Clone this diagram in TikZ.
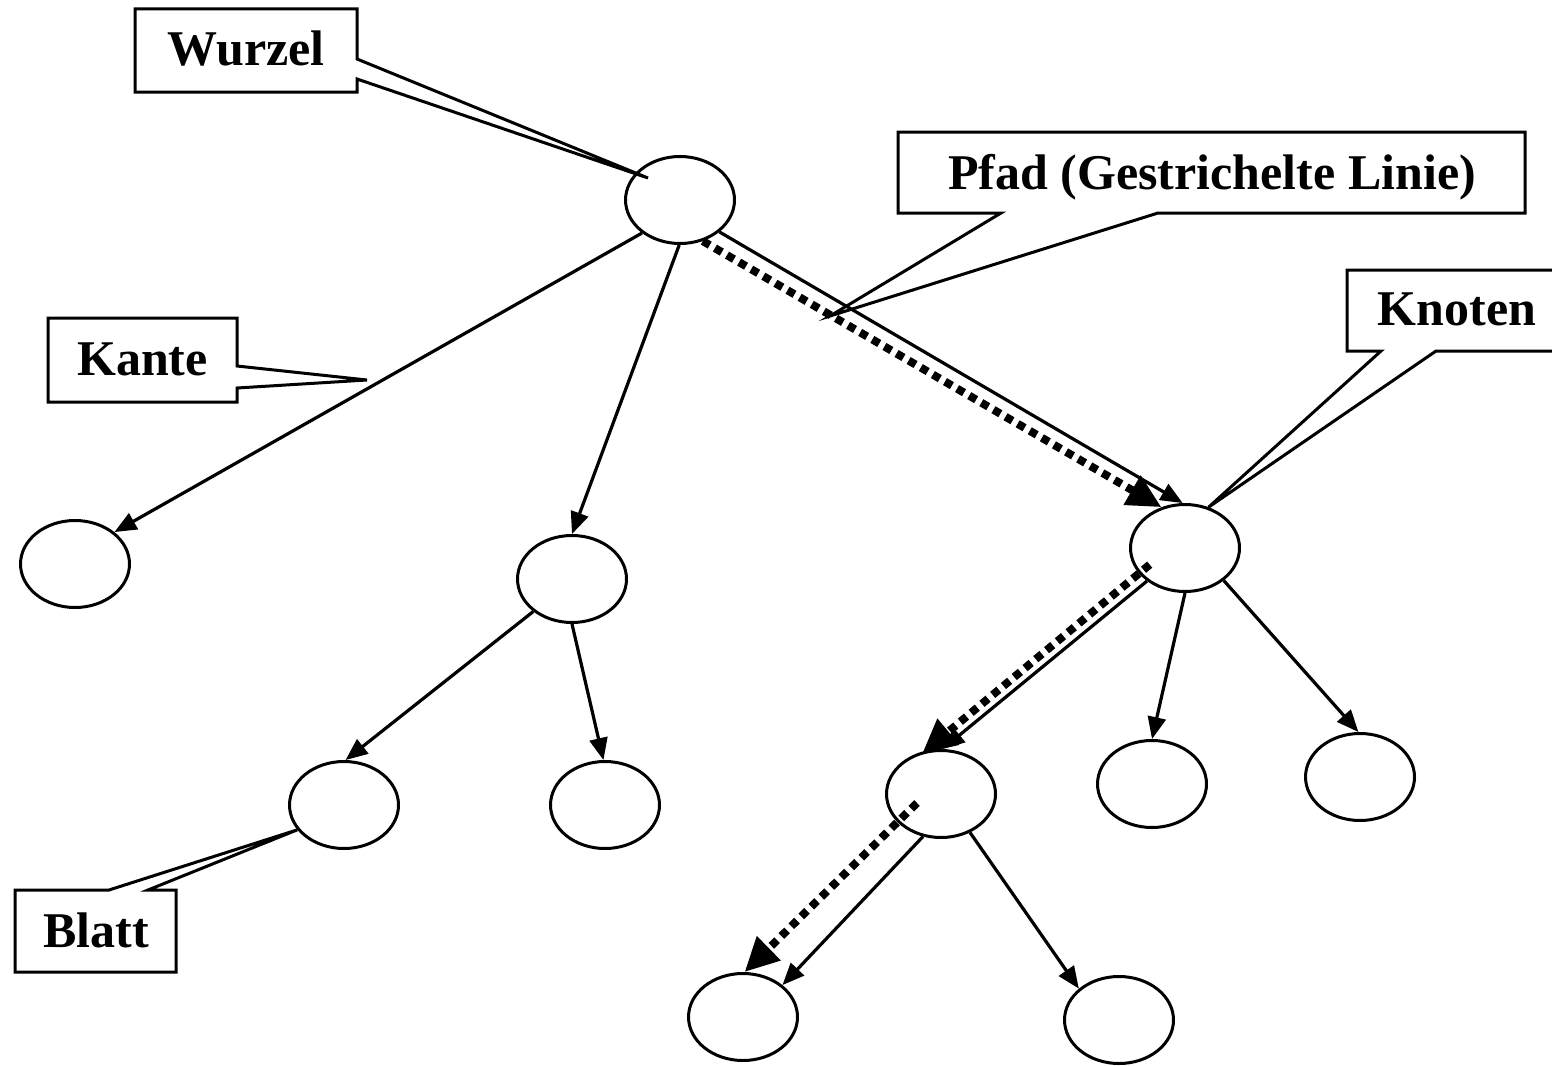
\documentclass[tikz,border=0pt]{standalone}
\usepackage{fontspec}
\setmainfont{Liberation Serif}
\usetikzlibrary{arrows.meta,calc,shapes.geometric}

\begin{document}
\begin{tikzpicture}[x=1pt,y=-1pt,
  vertex/.style={draw, ellipse, line width=3pt, minimum width=109pt,
                 minimum height=87pt, inner sep=0pt},
  edge/.style={line width=3.2pt, -{Triangle[length=22pt,width=18pt]}},
  pathline/.style={line width=8pt, dash pattern=on 8pt off 6pt,
                   -{Triangle[length=34pt,width=32pt]}},
  callout/.style={line width=3pt, line join=miter},
  lbl/.style={font=\bfseries\fontsize{50}{60}\selectfont, inner sep=0pt, anchor=base},
]
\useasboundingbox (0,0) rectangle (1552,1065);
\clip (0,0) rectangle (1552,1065);

% tree nodes
\node[vertex] (root)  at (680,200)  {};
\node[vertex] (leafA) at (75,564)   {};
\node[vertex] (mid)   at (572,579)  {};
\node[vertex] (leafB) at (344,805)  {};
\node[vertex] (leafC) at (605,805)  {};
\node[vertex] (kn)    at (1185,548) {};
\node[vertex] (c1)    at (941,794)  {};
\node[vertex] (c2)    at (1152,784) {};
\node[vertex] (c3)    at (1360,777) {};
\node[vertex] (d1)    at (743,1017) {};
\node[vertex] (d2)    at (1119,1020) {};

% edges
\draw[edge] (root.221) -- (leafA.39);
\draw[edge] (root.269) -- (mid.90);
\draw[edge] (root.321) -- (kn.93);
\draw[edge] (mid.220) -- (leafB.88);
\draw[edge] (mid.270) -- (leafC.92);
\draw[edge] (kn.221) -- (c1.88);
\draw[edge] (kn.270) -- (c2.90);
\draw[edge] (kn.320) -- (c3.92);
\draw[edge] (c1.247) -- (d1.39);
\draw[edge] (c1.307) -- (d2.142);

% the path, drawn as a thick dotted line
\coordinate (pstart) at ($(c1)+(-24,9)$);
\draw[pathline] (root.299) -- (kn.120);
\draw[pathline, shorten <=-14pt, shorten >=-4pt] (kn.209) -- (c1.110);
\draw[pathline] (pstart) -- (d1.88);

% callout labels
\coordinate (wtip) at ($(root)+(-32,-22)$);
\draw[callout] (135,9) -- (357,9) -- (357,59) -- (wtip) -- (357,79)
  -- (357,92) -- (135,92) -- cycle;
\node[lbl] (wurzel) at (246,66) {Wurzel};

\coordinate (ptip) at (830,316);
\draw[callout] (898,132) -- (1525,132) -- (1525,213) -- (1158,213) -- (ptip)
  -- (1001,213) -- (898,213) -- cycle;
\node[lbl] (pfad) at (1212,189) {Pfad (Gestrichelte Linie)};

\coordinate (ktip) at (kn.60);
\draw[callout] (1347,270) -- (1600,270) -- (1600,351) -- (1436,351) -- (ktip)
  -- (1381,351) -- (1347,351) -- cycle;
\node[lbl] (knoten) at (1457,325) {Knoten};

\coordinate (etip) at (367,380);
\draw[callout] (48,318) -- (237,318) -- (237,366) -- (etip) -- (237,388)
  -- (237,402) -- (48,402) -- cycle;
\node[lbl] (kante) at (142.5,375) {Kante};

\coordinate (btip) at (leafB.208);
\draw[callout] (15,890) -- (109,890) -- (btip) -- (148,890) -- (176,890)
  -- (176,972) -- (15,972) -- cycle;
\node[lbl] (blatt) at (96,947) {Blatt};
\end{tikzpicture}
\end{document}
